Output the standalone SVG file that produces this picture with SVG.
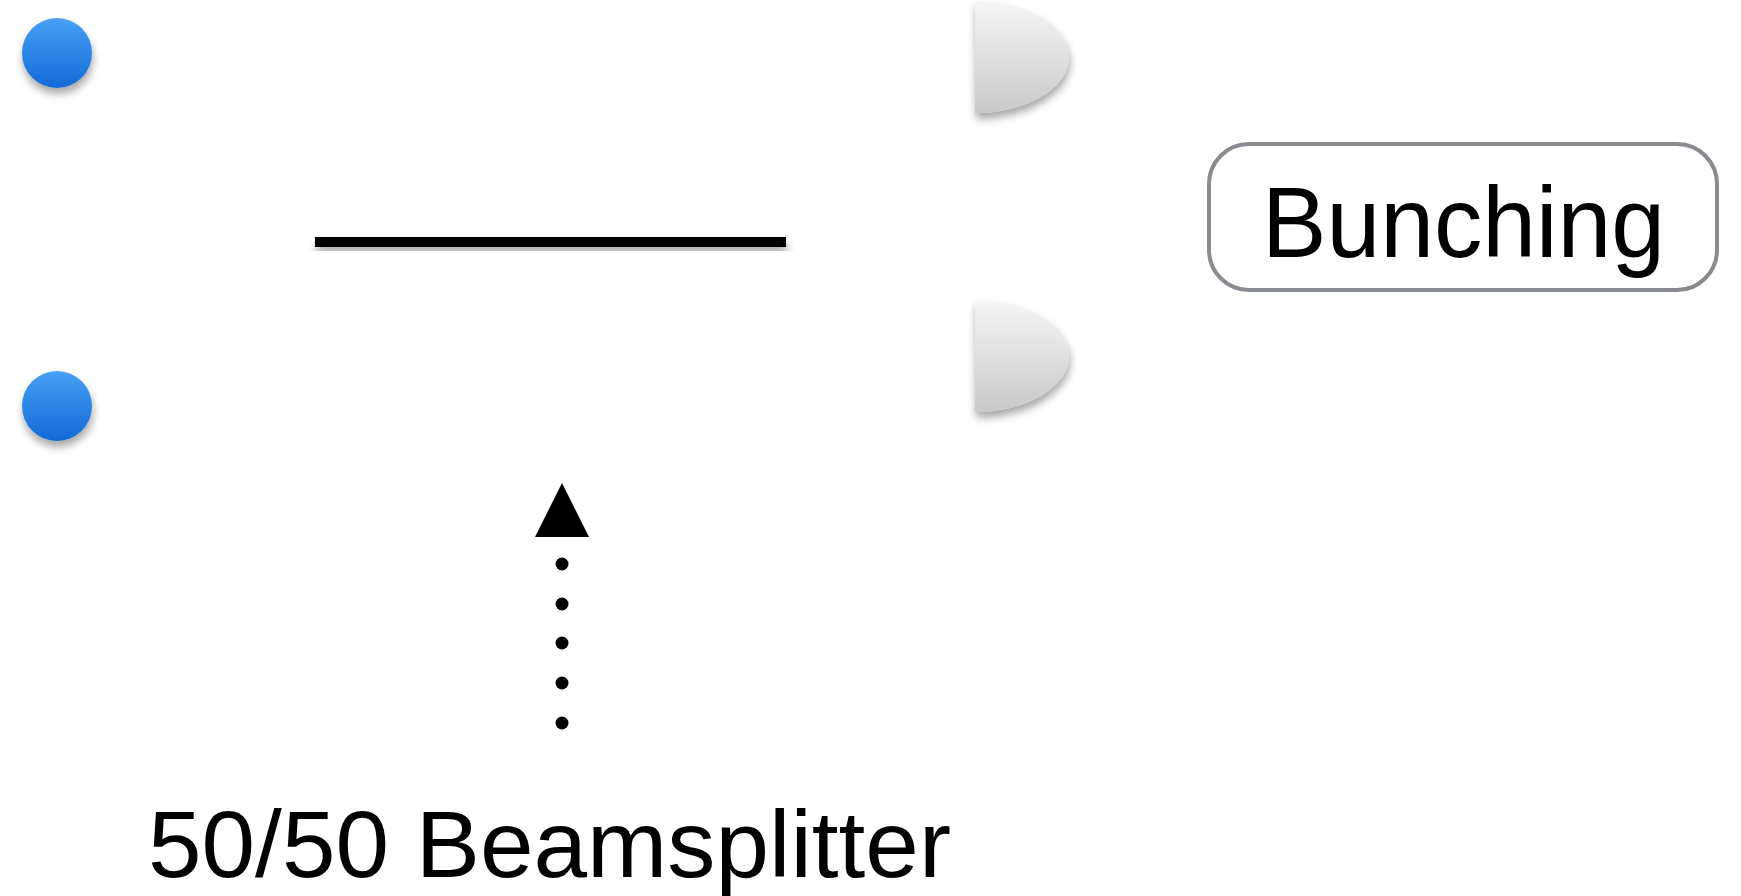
<svg xmlns="http://www.w3.org/2000/svg" width="1741" height="896" viewBox="0 0 1741 896">
  <defs>
    <linearGradient id="photonFill" x1="0" y1="0" x2="0" y2="1">
      <stop offset="0" stop-color="#46a0f5"/>
      <stop offset="1" stop-color="#156ad6"/>
    </linearGradient>
    <linearGradient id="detectorFill" x1="0" y1="0" x2="0" y2="1">
      <stop offset="0" stop-color="#f6f6f6"/>
      <stop offset="1" stop-color="#c9c9c9"/>
    </linearGradient>
    <filter id="softShadow" x="-30%" y="-30%" width="160%" height="170%">
      <feGaussianBlur in="SourceAlpha" stdDeviation="4"/>
      <feOffset dx="1" dy="6" result="blur"/>
      <feComponentTransfer><feFuncA type="linear" slope="0.35"/></feComponentTransfer>
      <feMerge><feMergeNode/><feMergeNode in="SourceGraphic"/></feMerge>
    </filter>
    <style>
      .photon { fill: url(#photonFill); filter: url(#softShadow); }
      .detector { fill: url(#detectorFill); filter: url(#softShadow); }
      .label { font-family: "Liberation Sans", Arial, sans-serif; fill: #000; }
      .dot { fill: #000; }
    </style>
  </defs>

  <rect width="1741" height="896" fill="#fff"/>

  <!-- incoming photons -->
  <g id="photon-top"><circle class="photon" cx="57" cy="53" r="35"/></g>
  <g id="photon-bottom"><circle class="photon" cx="57" cy="406" r="35"/></g>

  <!-- beamsplitter plate -->
  <g id="beamsplitter"><rect x="315" y="237" width="471" height="10" fill="#000" filter="url(#softShadow)"/></g>

  <!-- detectors (half ellipses) -->
  <g id="detector-top"><path class="detector" d="M975,1 A94,56 0 0 1 975,113 Z"/></g>
  <g id="detector-bottom"><path class="detector" d="M975,300 A94,56 0 0 1 975,412 Z"/></g>

  <!-- result label -->
  <g id="bunching">
    <rect x="1209" y="144" width="508" height="146" rx="40" ry="40" fill="#fff" stroke="#888b8f" stroke-width="4"/>
    <text class="label" x="1262" y="257" font-size="100" textLength="403" lengthAdjust="spacingAndGlyphs">Bunching</text>
  </g>

  <!-- pointer to the beamsplitter -->
  <g id="connectors">
    <polygon points="562,483 535,537 589,537" fill="#000"/>
    <circle class="dot" cx="562" cy="564" r="6.5"/>
    <circle class="dot" cx="562" cy="604" r="6.5"/>
    <circle class="dot" cx="562" cy="643" r="6.5"/>
    <circle class="dot" cx="562" cy="683" r="6.5"/>
    <circle class="dot" cx="562" cy="723" r="6.5"/>
  </g>

  <g id="beamsplitter-label">
    <text class="label" x="148" y="877" font-size="94" textLength="803" lengthAdjust="spacingAndGlyphs">50/50 Beamsplitter</text>
  </g>
</svg>
